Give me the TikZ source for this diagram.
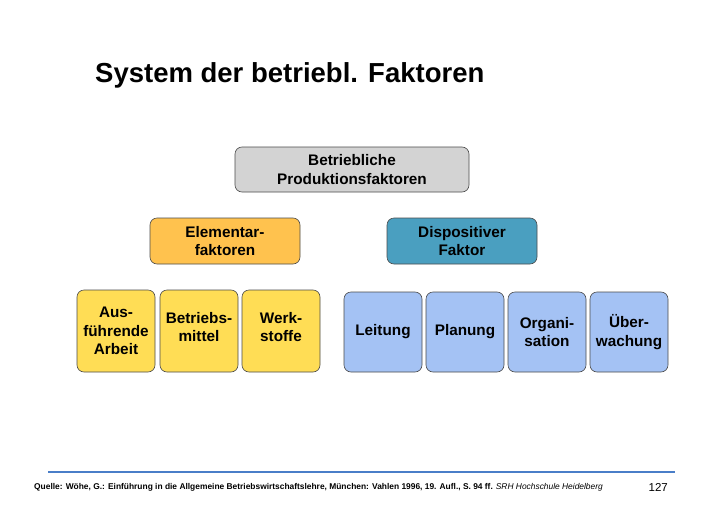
\documentclass[tikz,border=0pt]{standalone}
\usepackage{fontspec}
\setmainfont{Liberation Sans}
\definecolor{grayb}{HTML}{D3D3D3}
\definecolor{orangeb}{HTML}{FFC24E}
\definecolor{tealb}{HTML}{4A9FC0}
\definecolor{yellowb}{HTML}{FFDD55}
\definecolor{blueb}{HTML}{A4C2F4}
\definecolor{lineb}{HTML}{4A7EC8}
\tikzset{
  bx/.style={draw=black!70, line width=0.6pt, rounded corners=7pt, align=center, font=\bfseries\fontsize{15.3}{18.5}\selectfont, inner sep=0pt},
  tx/.style={align=center, font=\bfseries\fontsize{15.3}{18.5}\selectfont, inner sep=0pt},
}
\begin{document}
\begin{tikzpicture}[x=1pt,y=-1pt]
\useasboundingbox (0,0) rectangle (728,514);
\fill[white] (0,0) rectangle (728,514);
\node[anchor=west, font=\bfseries\fontsize{27.5}{32}\selectfont, inner sep=0pt] (title) at (95,75) {System der betriebl. Faktoren};
\node[bx, fill=grayb, minimum width=234pt, minimum height=45pt] (top) at (352,169.5) {Betriebliche\\Produktionsfaktoren};
\node[bx, fill=orangeb, minimum width=150pt, minimum height=46pt] (ele) at (225,241) {Elementar-\\faktoren};
\node[bx, fill=tealb, minimum width=150pt, minimum height=46pt] (dis) at (462,241) {Dispositiver\\Faktor};
\node[bx, fill=yellowb, minimum width=78pt, minimum height=82pt] (a1) at (116,331) {Aus-\\führende\\Arbeit};
\node[bx, fill=yellowb, minimum width=78pt, minimum height=82pt] (a2) at (199,331) {};
\node[tx] (a2t) at ([yshift=4pt]a2.center) {Betriebs-\\mittel};
\node[bx, fill=yellowb, minimum width=78pt, minimum height=82pt] (a3) at (281,331) {};
\node[tx] (a3t) at ([yshift=4pt]a3.center) {Werk-\\stoffe};
\node[bx, fill=blueb, minimum width=78pt, minimum height=80pt] (b1) at (383,332) {Leitung};
\node[bx, fill=blueb, minimum width=78pt, minimum height=80pt] (b2) at (465,332) {\raisebox{-3pt}{Planung}};
\node[bx, fill=blueb, minimum width=78pt, minimum height=80pt] (b3) at (547,332) {Organi-\\sation};
\node[bx, fill=blueb, minimum width=78pt, minimum height=80pt] (b4) at (629,332) {Über-\\wachung};
\coordinate (l1) at (48,472);
\coordinate (l2) at (675,472);
\draw[lineb, line width=2pt] (l1) -- (l2);
\node[anchor=west, font=\bfseries\fontsize{8.4}{10}\selectfont, inner sep=0pt] (src) at (34,487) {Quelle: Wöhe, G.: Einführung in die Allgemeine Betriebswirtschaftslehre, München: Vahlen 1996, 19. Aufl., S. 94 ff.};
\node[anchor=east, font=\itshape\fontsize{8.4}{10}\selectfont, inner sep=0pt] (srh) at (603,487) {SRH Hochschule Heidelberg};
\node[anchor=east, font=\fontsize{11.5}{13}\selectfont, inner sep=0pt] (pg) at (668,487) {127};
\end{tikzpicture}
\end{document}
